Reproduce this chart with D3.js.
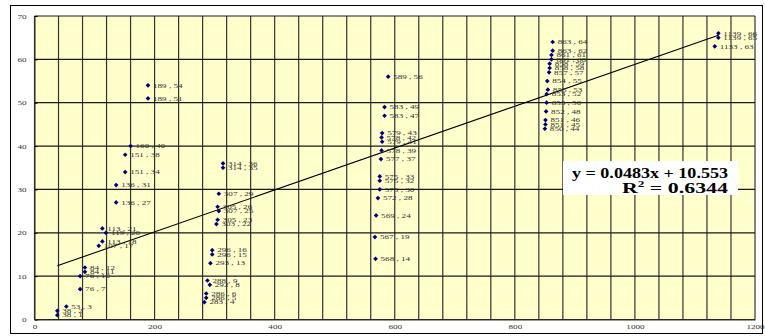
<!DOCTYPE html>
<html>
<head>
<meta charset="utf-8">
<script src="https://cdn.jsdelivr.net/npm/d3@7"></script>
<style>
  html, body { margin: 0; padding: 0; background: #fff; }
  svg { display: block; }
</style>
</head>
<body>
<svg id="chart" width="765" height="336"></svg>
<script>
// Observations (x , y)
const xValues = [
  38, 38, 53, 76, 76, 84, 84, 107, 113, 119, 113, 136, 136, 151, 151, 160, 189, 189,
  283, 286, 286, 292, 288, 293, 296, 296, 303, 305, 307, 305, 307, 314, 314,
  568, 567, 569, 572, 575, 575, 575, 577, 578, 579, 578, 579, 583, 583, 589,
  850, 851, 851, 852, 853, 853, 855, 854, 857, 858, 858, 861, 861, 863, 863,
  1133, 1139, 1139
];
const yValues = [
  1, 2, 3, 7, 10, 11, 12, 17, 18, 20, 21, 27, 31, 34, 38, 40, 51, 54,
  4, 5, 6, 8, 9, 13, 15, 16, 22, 23, 25, 26, 29, 35, 36,
  14, 19, 24, 28, 30, 32, 33, 37, 39, 41, 42, 43, 47, 49, 56,
  44, 45, 46, 48, 50, 52, 53, 55, 57, 58, 59, 60, 61, 62, 64,
  63, 65, 66
];

// Axis ticks
const xTickLabels = [0, 200, 400, 600, 800, 1000, 1200];
const yTickLabels = [0, 10, 20, 30, 40, 50, 60, 70];
const xGridValues = d3.range(0, 1201, 40);

// Linear trend line
const slope = 0.0483;
const intercept = 10.553;
const rSquared = 0.6344;

const points = xValues.map((x, i) => ({ x, y: yValues[i] }));

const svg = d3.select("#chart");
const serif = "'Liberation Serif', 'Times New Roman', serif";
const smallSize = 6.5;
const widen = 1.4;

// Small text is drawn low and wide
function stretch(sel) {
  sel.each(function () {
    const w = this.getComputedTextLength();
    d3.select(this).attr("textLength", w * widen).attr("lengthAdjust", "spacingAndGlyphs");
  });
}

const plot = { left: 34.5, right: 755, top: 16, bottom: 319.5 };
const x = d3.scaleLinear().domain([0, 1200]).range([plot.left, plot.right]);
const y = d3.scaleLinear().domain([0, 70]).range([plot.bottom, plot.top]);

// Chart frame
svg.append("rect")
  .attr("x", 10.5).attr("y", 5.5)
  .attr("width", 752).attr("height", 328)
  .attr("fill", "#fff").attr("stroke", "#000").attr("stroke-width", 1);

// Plot area
svg.append("rect")
  .attr("x", plot.left).attr("y", plot.top)
  .attr("width", plot.right - plot.left).attr("height", plot.bottom - plot.top)
  .attr("fill", "#ffffcc");

// Gridlines
svg.append("g").selectAll("line.v")
  .data(xGridValues)
  .join("line")
  .attr("x1", d => x(d)).attr("x2", d => x(d))
  .attr("y1", plot.top).attr("y2", plot.bottom)
  .attr("stroke", "#333").attr("stroke-width", 1.2);

svg.append("g").selectAll("line.h")
  .data(yTickLabels)
  .join("line")
  .attr("x1", plot.left).attr("x2", plot.right)
  .attr("y1", d => y(d)).attr("y2", d => y(d))
  .attr("stroke", "#1a1a1a").attr("stroke-width", 1.2);

// Axes
const yAxis = svg.append("g")
  .attr("transform", `translate(${plot.left},0)`)
  .call(d3.axisLeft(y).tickValues(yTickLabels).tickSize(-3).tickPadding(8).tickFormat(d3.format("d")));
yAxis.select(".domain").attr("stroke", "#333");
yAxis.selectAll(".tick line").attr("stroke", "#000");
yAxis.selectAll("text")
  .attr("font-family", serif).attr("font-size", smallSize).attr("fill", "#333")
  .call(stretch);

const xAxis = svg.append("g")
  .attr("transform", `translate(0,${plot.bottom})`)
  .call(d3.axisBottom(x).tickValues(xTickLabels).tickSize(0).tickPadding(5).tickFormat(d3.format("d")));
xAxis.select(".domain").attr("stroke", "#333");
xAxis.selectAll("text")
  .attr("font-family", serif).attr("font-size", smallSize).attr("fill", "#333")
  .call(stretch);

// Trend line across the data range
const [xMin, xMax] = d3.extent(xValues);
svg.append("line")
  .attr("x1", x(xMin)).attr("y1", y(slope * xMin + intercept))
  .attr("x2", x(xMax)).attr("y2", y(slope * xMax + intercept))
  .attr("stroke", "#000").attr("stroke-width", 1.1);

// Markers
svg.append("g").selectAll("path")
  .data(points)
  .join("path")
  .attr("d", d3.symbol(d3.symbolDiamond2, 14))
  .attr("transform", d => `translate(${x(d.x)},${y(d.y)})`)
  .attr("fill", "#000080");

// Point labels
svg.append("g").selectAll("text")
  .data(points)
  .join("text")
  .attr("x", d => x(d.x) + 5)
  .attr("y", d => y(d.y))
  .attr("dy", "0.35em")
  .attr("font-family", serif)
  .attr("font-size", smallSize)
  .attr("fill", "#333")
  .text(d => `${d.x} , ${d.y}`)
  .call(stretch);

// Regression equation box
const eq = svg.append("g");
eq.append("rect")
  .attr("x", 563).attr("y", 161)
  .attr("width", 175).attr("height", 34)
  .attr("fill", "#fff");
eq.append("text")
  .attr("x", 728).attr("y", 178)
  .attr("text-anchor", "end")
  .attr("font-family", serif).attr("font-size", 15).attr("font-weight", "bold")
  .attr("fill", "#000")
  .attr("textLength", 156).attr("lengthAdjust", "spacingAndGlyphs")
  .text(`y = ${slope}x + ${intercept}`);
const r = eq.append("text")
  .attr("x", 728).attr("y", 193)
  .attr("text-anchor", "end")
  .attr("font-family", serif).attr("font-size", 15).attr("font-weight", "bold")
  .attr("fill", "#000");
r.append("tspan").text("R");
r.append("tspan").attr("dy", -6).attr("font-size", 9).text("2");
r.append("tspan").attr("dy", 6).text(` = ${rSquared}`);
r.attr("textLength", 106).attr("lengthAdjust", "spacingAndGlyphs");
</script>
</body>
</html>
